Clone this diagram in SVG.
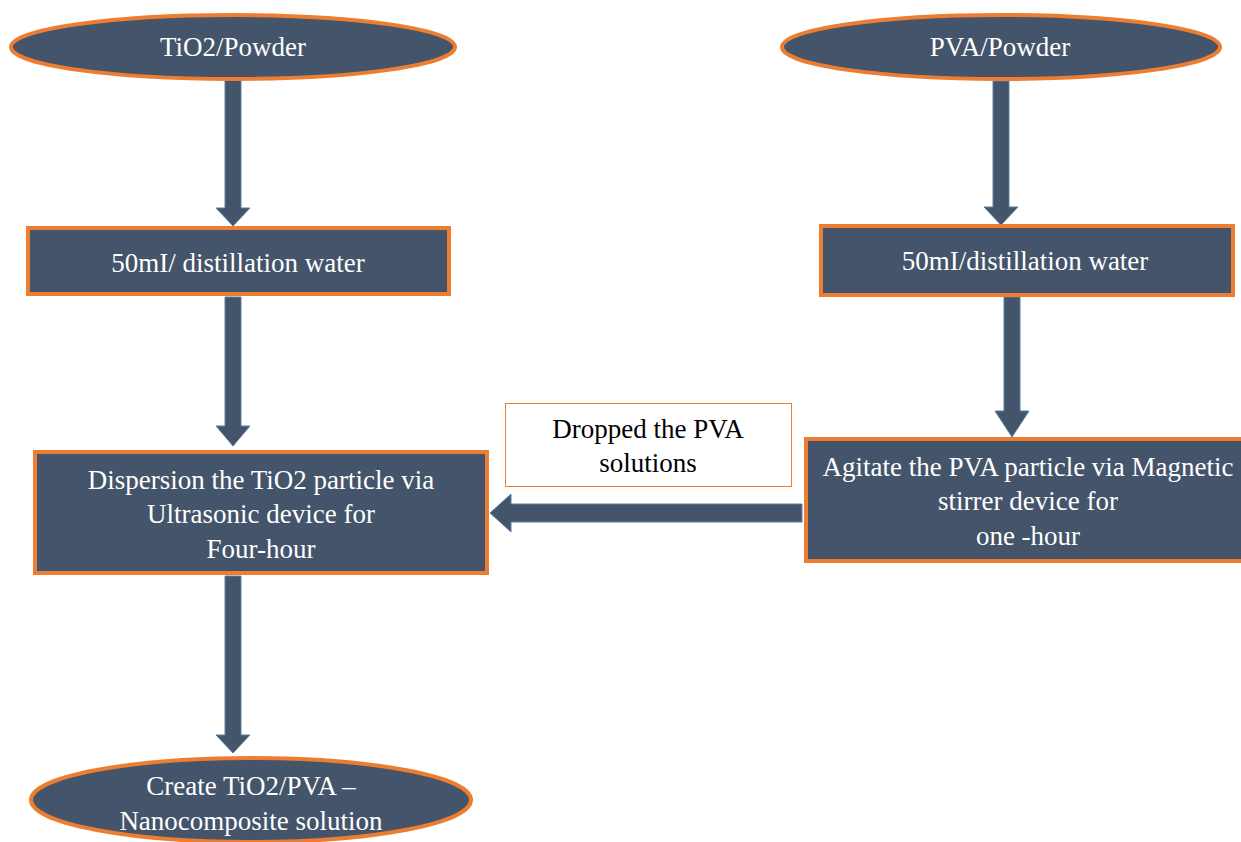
<svg xmlns="http://www.w3.org/2000/svg" width="1241" height="842" viewBox="0 0 1241 842">
<style>
.node{fill:#44546A;stroke:#ED7D31;stroke-width:4}
.t{font-family:'Liberation Serif','Times New Roman','DejaVu Serif',serif;font-size:27px;fill:#ffffff;text-anchor:middle}
.tb{font-family:'Liberation Serif','Times New Roman','DejaVu Serif',serif;font-size:27px;fill:#000000;text-anchor:middle}
.arr{fill:#44546A;stroke:#5B7FA6;stroke-width:1}
</style>
<rect width="1241" height="842" fill="#ffffff"/>
<g id="connectors">
<polygon class="arr" points="225,80 241,80 241,208 250,208 233,226 216,208 225,208"/>
<polygon class="arr" points="225,297 241,297 241,426 250,426 233,446 216,426 225,426"/>
<polygon class="arr" points="225,576 241,576 241,735 250,735 233,753 216,735 225,735"/>
<polygon class="arr" points="993,81 1009,81 1009,207 1018,207 1001,225 984,207 993,207"/>
<polygon class="arr" points="1004,297 1020,297 1020,411 1029,411 1012,437 995,411 1004,411"/>
<polygon class="arr" points="802,504 802,522 511,522 511,532 490,513 511,494 511,504"/>
</g>
<g id="n-tio2">
<ellipse class="node" cx="233" cy="47" rx="222" ry="32"/>
<text class="t" x="233" y="56">TiO2/Powder</text>
</g>
<g id="n-pva">
<ellipse class="node" cx="1001" cy="47" rx="219" ry="32"/>
<text class="t" x="1000" y="56">PVA/Powder</text>
</g>
<g id="n-water-left">
<rect class="node" x="28" y="228" width="421" height="66"/>
<text class="t" x="238" y="272">50mI/ distillation water</text>
</g>
<g id="n-water-right">
<rect class="node" x="821" y="226" width="412" height="69"/>
<text class="t" x="1025" y="270">50mI/distillation water</text>
</g>
<g id="n-dispersion">
<rect class="node" x="35" y="452" width="452" height="121"/>
<text class="t" x="261" y="489">Dispersion the TiO2 particle via</text>
<text class="t" x="261" y="523">Ultrasonic device for</text>
<text class="t" x="261" y="558">Four-hour</text>
</g>
<g id="n-agitate">
<rect class="node" x="806" y="439" width="438" height="122"/>
<text class="t" x="1028" y="476">Agitate the PVA particle via Magnetic</text>
<text class="t" x="1028" y="510">stirrer device for</text>
<text class="t" x="1028" y="545">one -hour</text>
</g>
<g id="label-dropped">
<rect x="505.5" y="403.5" width="286" height="83" fill="#ffffff" stroke="#ED7D31" stroke-width="1"/>
<text class="tb" x="648" y="438">Dropped the PVA</text>
<text class="tb" x="648" y="472">solutions</text>
</g>
<g id="n-create">
<ellipse class="node" cx="251" cy="800" rx="220" ry="42"/>
<text class="t" x="251" y="795">Create TiO2/PVA –</text>
<text class="t" x="251" y="830">Nanocomposite solution</text>
</g>
</svg>
